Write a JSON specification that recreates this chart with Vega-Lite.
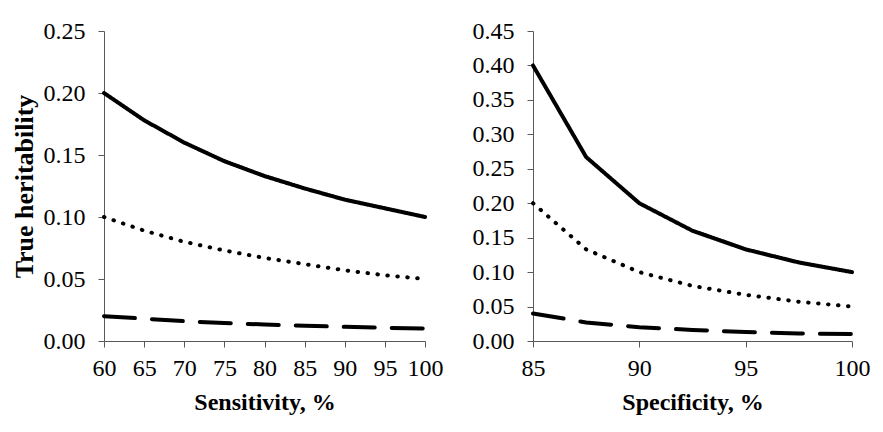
{
  "$schema": "https://vega.github.io/schema/vega-lite/v6.json",
  "background": "white",
  "padding": {"left": 11, "top": 19, "right": 5, "bottom": 5},
  "spacing": 29,
  "datasets": {
    "sens": [
      {"x": 60, "h": 0.2, "s": "a"}, {"x": 65, "h": 0.178, "s": "a"}, {"x": 70, "h": 0.16, "s": "a"},
      {"x": 75, "h": 0.145, "s": "a"}, {"x": 80, "h": 0.133, "s": "a"}, {"x": 85, "h": 0.123, "s": "a"},
      {"x": 90, "h": 0.114, "s": "a"}, {"x": 95, "h": 0.107, "s": "a"}, {"x": 100, "h": 0.1, "s": "a"},
      {"x": 60, "h": 0.1, "s": "b"}, {"x": 65, "h": 0.089, "s": "b"}, {"x": 70, "h": 0.08, "s": "b"},
      {"x": 75, "h": 0.073, "s": "b"}, {"x": 80, "h": 0.067, "s": "b"}, {"x": 85, "h": 0.062, "s": "b"},
      {"x": 90, "h": 0.057, "s": "b"}, {"x": 95, "h": 0.053, "s": "b"}, {"x": 100, "h": 0.05, "s": "b"},
      {"x": 60, "h": 0.02, "s": "c"}, {"x": 65, "h": 0.018, "s": "c"}, {"x": 70, "h": 0.016, "s": "c"},
      {"x": 75, "h": 0.0145, "s": "c"}, {"x": 80, "h": 0.0133, "s": "c"}, {"x": 85, "h": 0.0123, "s": "c"},
      {"x": 90, "h": 0.0114, "s": "c"}, {"x": 95, "h": 0.0107, "s": "c"}, {"x": 100, "h": 0.01, "s": "c"}
    ],
    "spec": [
      {"x": 85, "h": 0.4, "s": "a"}, {"x": 87.5, "h": 0.267, "s": "a"}, {"x": 90, "h": 0.2, "s": "a"},
      {"x": 92.5, "h": 0.16, "s": "a"}, {"x": 95, "h": 0.133, "s": "a"}, {"x": 97.5, "h": 0.114, "s": "a"},
      {"x": 100, "h": 0.1, "s": "a"},
      {"x": 85, "h": 0.2, "s": "b"}, {"x": 87.5, "h": 0.133, "s": "b"}, {"x": 90, "h": 0.1, "s": "b"},
      {"x": 92.5, "h": 0.08, "s": "b"}, {"x": 95, "h": 0.067, "s": "b"}, {"x": 97.5, "h": 0.057, "s": "b"},
      {"x": 100, "h": 0.05, "s": "b"},
      {"x": 85, "h": 0.04, "s": "c"}, {"x": 87.5, "h": 0.027, "s": "c"}, {"x": 90, "h": 0.02, "s": "c"},
      {"x": 92.5, "h": 0.016, "s": "c"}, {"x": 95, "h": 0.013, "s": "c"}, {"x": 97.5, "h": 0.011, "s": "c"},
      {"x": 100, "h": 0.01, "s": "c"}
    ]
  },
  "hconcat": [
    {
      "width": 321,
      "height": 310,
      "data": {"name": "sens"},
      "mark": {"type": "line", "color": "black", "strokeWidth": 4, "strokeCap": "round"},
      "encoding": {
        "x": {"field": "x", "type": "quantitative", "title": "Sensitivity, %",
              "scale": {"domain": [60, 100], "nice": false, "zero": false},
              "axis": {"values": [60, 65, 70, 75, 80, 85, 90, 95, 100]}},
        "y": {"field": "h", "type": "quantitative", "title": "True heritability",
              "scale": {"domain": [0, 0.25], "nice": false},
              "axis": {"values": [0, 0.05, 0.1, 0.15, 0.2, 0.25], "format": ".2f", "titleFontSize": 26, "titlePadding": 6}},
        "strokeDash": {"field": "s", "type": "nominal", "legend": null,
                       "scale": {"domain": ["a", "b", "c"], "range": [[1, 0], [0.5, 9.5], [31, 17]]}}
      }
    },
    {
      "width": 319,
      "height": 310,
      "data": {"name": "spec"},
      "mark": {"type": "line", "color": "black", "strokeWidth": 4, "strokeCap": "round"},
      "encoding": {
        "x": {"field": "x", "type": "quantitative", "title": "Specificity, %",
              "scale": {"domain": [85, 100], "nice": false, "zero": false},
              "axis": {"values": [85, 90, 95, 100]}},
        "y": {"field": "h", "type": "quantitative", "title": null,
              "scale": {"domain": [0, 0.45], "nice": false},
              "axis": {"values": [0, 0.05, 0.1, 0.15, 0.2, 0.25, 0.3, 0.35, 0.4, 0.45], "format": ".2f"}},
        "strokeDash": {"field": "s", "type": "nominal", "legend": null,
                       "scale": {"domain": ["a", "b", "c"], "range": [[1, 0], [0.5, 9.5], [31, 17]]}}
      }
    }
  ],
  "resolve": {"scale": {"strokeDash": "independent"}},
  "config": {
    "view": {"stroke": null},
    "axis": {
      "grid": false,
      "labelFont": "Times New Roman, Liberation Serif, serif",
      "labelFontSize": 24,
      "labelColor": "black",
      "titleFont": "Times New Roman, Liberation Serif, serif",
      "titleFontSize": 24,
      "titleFontWeight": "bold",
      "titleColor": "black",
      "domainColor": "#595959",
      "tickColor": "#595959",
      "tickSize": 6,
      "labelFlush": false,
      "labelOverlap": false
    },
    "axisX": {"labelPadding": 9, "titlePadding": 10},
    "axisY": {"labelPadding": 13, "titlePadding": 8}
  }
}
